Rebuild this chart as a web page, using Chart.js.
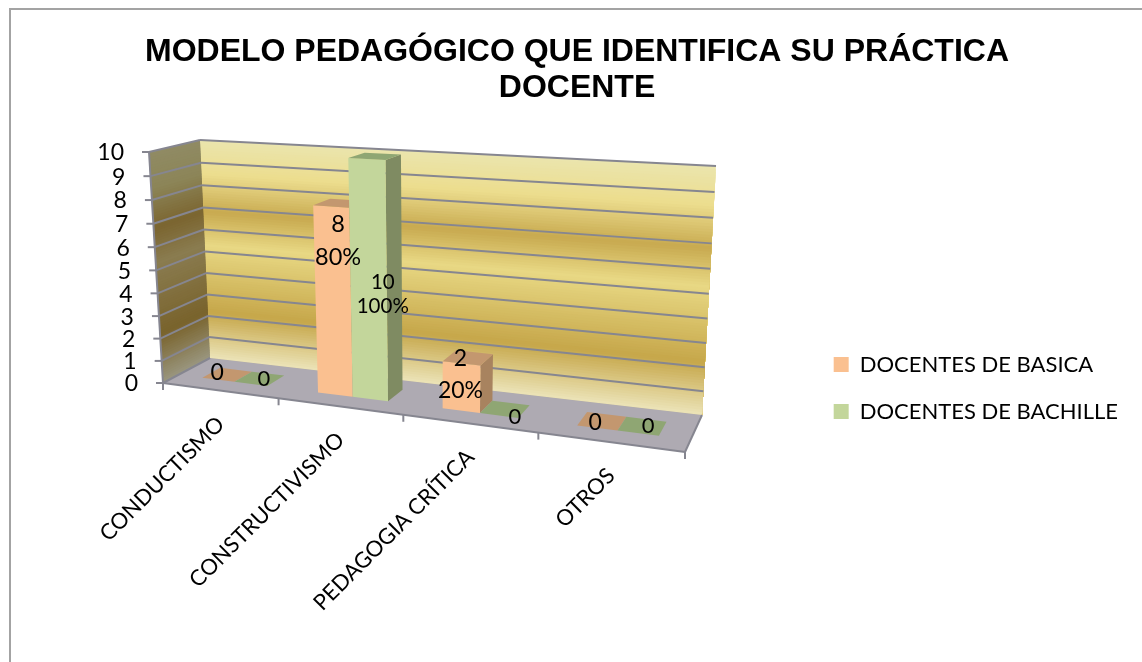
<!DOCTYPE html>
<html><head><meta charset="utf-8">
<script src="https://cdn.jsdelivr.net/npm/chart.js@4"></script>
<style>
html,body{margin:0;padding:0;background:#fff;overflow:hidden}
#wrap{position:relative;width:1142px;height:662px}
#frame{position:absolute;left:9px;top:8px;right:0;bottom:0;border-left:2px solid #a3a3a3;border-top:2px solid #a3a3a3}
canvas{position:absolute;left:0;top:0}
</style></head><body>
<div id="wrap"><div id="frame"></div><canvas id="c" width="1142" height="662"></canvas></div>
<script>
const categories = ['CONDUCTISMO','CONSTRUCTIVISMO','PEDAGOGIA CRÍTICA','OTROS'];
const seriesNames = ['DOCENTES DE BASICA','DOCENTES DE BACHILLE'];
const basica = [0,8,2,0];
const bachille = [0,10,0,0];
const basicaPct = ['', '80%', '20%', ''];
const bachillePct = ['', '100%', '', ''];
const titleLines = ['MODELO PEDAGÓGICO QUE IDENTIFICA SU PRÁCTICA','DOCENTE'];

// view of the 3-D box: corners of the front and back planes [BL, BR, TR, TL]
const FRONT = [[163,383],[685,452],[700,183],[149,152]];
const BACK  = [[210,358],[702,415],[716,166],[200,140]];
const DEPTH = [0.33,0.72];
const FONT = 'Lato, "Open Sans", sans-serif';
const wallStops = [[0,'#ece4b8'],[.22,'#c6a74a'],[.53,'#e8d884'],[.68,'#c8aa50'],[.85,'#ecdd8e'],[1,'#ebe5ae']];
const sideStops = [[0,'#9a9780'],[.22,'#79632c'],[.53,'#8a7c50'],[.68,'#7b6530'],[.85,'#8c8558'],[1,'#908b64']];
const faces = [
  {front:'#fac090',side:'#a8835f',top:'#c3976f'},
  {front:'#c3d69b',side:'#7f8b62',top:'#8fa673'}
];
// label placement relative to the top of each bar's front face: [dx,dy,gap to second line,size]
const labelPlace = [
  [[-1,-7,0,23],[7,18,33,23.5],[-1,-5,32,23],[-2,-5,0,23]],
  [[13,-5,0,22],[16,123,24,20.5],[16,1,0,22],[10,-7,0,22]]
];
const legendShift = {x:-14,y:57};

function lerp(a,b,t){return a+(b-a)*t;}
function quadAt(w){return FRONT.map((p,i)=>[lerp(p[0],BACK[i][0],w),lerp(p[1],BACK[i][1],w)]);}
function project(u,v,w){
  const q=quadAt(w),[p0,p1,p2,p3]=q;
  const dx1=p1[0]-p2[0],dx2=p3[0]-p2[0],sx=p0[0]-p1[0]+p2[0]-p3[0];
  const dy1=p1[1]-p2[1],dy2=p3[1]-p2[1],sy=p0[1]-p1[1]+p2[1]-p3[1];
  const den=dx1*dy2-dx2*dy1;
  const g=(sx*dy2-dx2*sy)/den,h=(dx1*sy-sx*dy1)/den;
  const a=p1[0]-p0[0]+g*p1[0],b=p3[0]-p0[0]+h*p3[0];
  const d=p1[1]-p0[1]+g*p1[1],e=p3[1]-p0[1]+h*p3[1];
  const t=g*u+h*v+1;
  return [(a*u+b*v+p0[0])/t,(d*u+e*v+p0[1])/t];
}
function poly(ctx,pts,fill){ctx.beginPath();pts.forEach((p,i)=>i?ctx.lineTo(p[0],p[1]):ctx.moveTo(p[0],p[1]));ctx.closePath();ctx.fillStyle=fill;ctx.fill();}
function line(ctx,a,b,col,lw){ctx.beginPath();ctx.moveTo(a[0],a[1]);ctx.lineTo(b[0],b[1]);ctx.strokeStyle=col;ctx.lineWidth=lw;ctx.stroke();}
function hex(c){return [1,3,5].map(i=>parseInt(c.substr(i,2),16));}
function stopColor(st,t){
  for(let i=1;i<st.length;i++){ if(t<=st[i][0]){
    const k=(t-st[i-1][0])/(st[i][0]-st[i-1][0]),A=hex(st[i-1][1]),B=hex(st[i][1]);
    return 'rgb('+A.map((x,j)=>Math.round(lerp(x,B[j],k))).join(',')+')';
  }}
  return st[st.length-1][1];
}
const box3d = {
  id:'box3d',
  afterLayout(chart){
    const l=chart.legend;
    l.left+=legendShift.x;l.right+=legendShift.x;l.top+=legendShift.y;l.bottom+=legendShift.y;
  },
  beforeDatasetsDraw(chart){
    const {ctx,chartArea:ca,scales:{x,y}}=chart;
    const U=px=>(px-ca.left)/ca.width, V=py=>(ca.bottom-py)/ca.height;
    ctx.save();
    // walls: nested fills from the top down, so the sheen follows the perspective without seams
    const N=90;
    for(let i=N-1;i>=0;i--){
      const v1=(i+1)/N,c=(i+.5)/N;
      poly(ctx,[project(0,0,1),project(1,0,1),project(1,v1,1),project(0,v1,1)],stopColor(wallStops,c));
      poly(ctx,[project(0,0,0),project(0,0,1),project(0,v1,1),project(0,v1,0)],stopColor(sideStops,c));
    }
    // floor
    poly(ctx,[project(0,0,0),project(1,0,0),project(1,0,1),project(0,0,1)],'#aeaab2');
    // grid and value axis
    const grid='#868690';
    y.ticks.forEach(t=>{
      const v=V(y.getPixelForValue(t.value));
      line(ctx,project(0,v,0),project(0,v,1),grid,2);
      if(v>0) line(ctx,project(0,v,1),project(1,v,1),grid,2);
      const p=project(0,v,0);
      line(ctx,[p[0]-7,p[1]],p,grid,2);
      ctx.fillStyle='#000';ctx.font='23px '+FONT;ctx.textAlign='right';ctx.textBaseline='middle';
      ctx.fillText(String(t.value),p[0]-25,p[1]+1);
    });
    line(ctx,project(0,0,0),project(0,1,0),grid,2);
    line(ctx,project(1,0,0),project(1,0,1),grid,2);
    // category axis
    line(ctx,project(0,0,0),project(1,0,0),grid,2);
    const n=categories.length;
    for(let i=0;i<=n;i++){const p=project(i/n,0,0);line(ctx,p,[p[0],p[1]+7],grid,2);}
    x.ticks.forEach((t,i)=>{
      const c=U(x.getPixelForTick(i));
      const p=project(c,0,0);
      ctx.save();ctx.translate(p[0]+1,p[1]+30);ctx.rotate(-Math.PI/4);
      ctx.fillStyle='#000';ctx.font='22px '+FONT;ctx.textAlign='right';ctx.textBaseline='middle';
      ctx.fillText(x.getLabelForValue(t.value),0,0);ctx.restore();
    });
    // bars
    const tops=[];
    for(let i=0;i<n;i++){
      chart.data.datasets.forEach((ds,k)=>{
        const b=chart.getDatasetMeta(k).data[i],f=faces[k];
        const u0=U(b.x-b.width/2),u1=U(b.x+b.width/2),vb=V(b.base),vt=V(b.y);
        const [w0,w1]=DEPTH;
        if(vt>vb){
          poly(ctx,[project(u1,vb,w0),project(u1,vb,w1),project(u1,vt,w1),project(u1,vt,w0)],f.side);
          poly(ctx,[project(u0,vb,w0),project(u1,vb,w0),project(u1,vt,w0),project(u0,vt,w0)],ds.backgroundColor);
        }
        poly(ctx,[project(u0,vt,w0),project(u1,vt,w0),project(u1,vt,w1),project(u0,vt,w1)],f.top);
        const a=project((u0+u1)/2,vt,w0);
        tops.push({a,k,i,val:ds.data[i],pct:ds.pct[i]});
      });
    }
    // data labels
    ctx.fillStyle='#000';ctx.textAlign='center';ctx.textBaseline='middle';
    tops.forEach(o=>{
      const [dx,dy,dy2,size]=labelPlace[o.k][o.i];
      ctx.font=size+'px '+FONT;
      ctx.fillText(String(o.val),o.a[0]+dx,o.a[1]+dy);
      if(o.pct) ctx.fillText(o.pct,o.a[0]+dx,o.a[1]+dy+dy2);
    });
    ctx.restore();
    return false;
  }
};
new Chart(document.getElementById('c'),{
  type:'bar',
  data:{labels:categories,datasets:[
    {label:seriesNames[0],data:basica,pct:basicaPct,backgroundColor:faces[0].front,borderWidth:0,categoryPercentage:0.571,barPercentage:1},
    {label:seriesNames[1],data:bachille,pct:bachillePct,backgroundColor:faces[1].front,borderWidth:0,categoryPercentage:0.571,barPercentage:1}
  ]},
  options:{
    responsive:false,animation:false,devicePixelRatio:1,
    layout:{padding:{left:12,right:0,top:0,bottom:0}},
    scales:{
      x:{display:false,type:'category'},
      y:{display:false,min:0,max:10,ticks:{stepSize:1}}
    },
    plugins:{
      tooltip:{enabled:false},
      title:{display:true,text:titleLines,color:'#000',font:{family:'"Liberation Sans", Arial, sans-serif',size:32,weight:'bold',lineHeight:1.13},padding:{top:34,bottom:4}},
      legend:{display:true,position:'right',labels:{color:'#000',font:{family:FONT,size:22},boxWidth:15,boxHeight:15,padding:25}}
    }
  },
  plugins:[box3d]
});
</script>
</body></html>
